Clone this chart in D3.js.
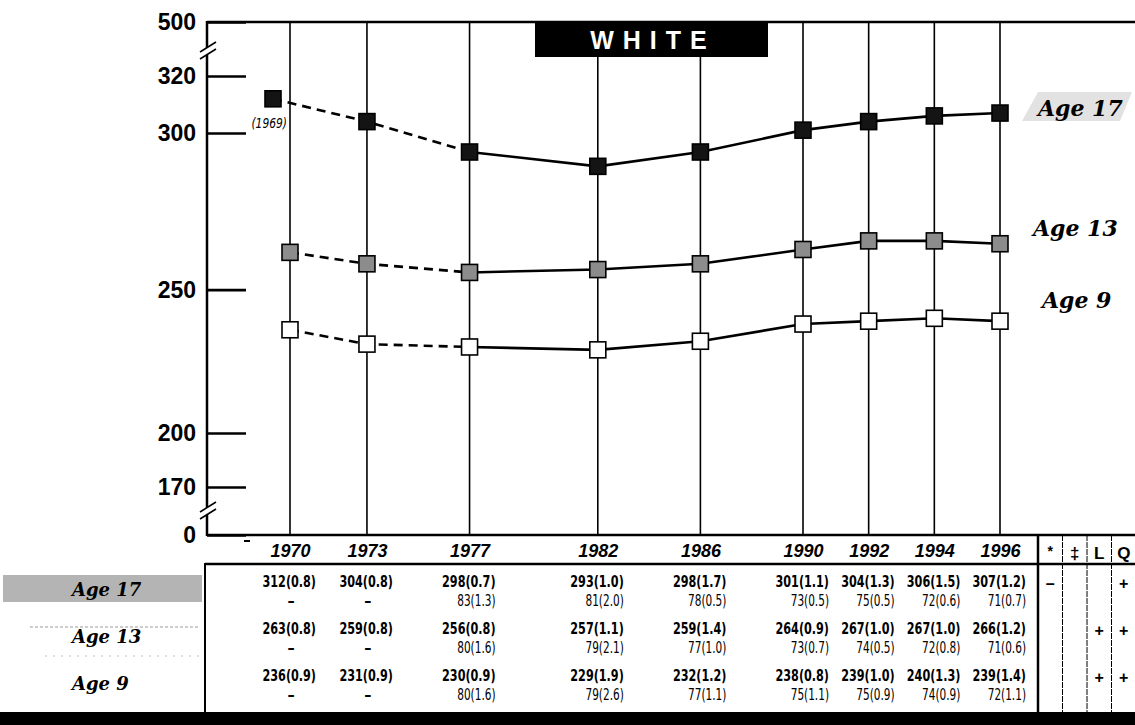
<!DOCTYPE html>
<html><head><meta charset="utf-8">
<script src="https://cdn.jsdelivr.net/npm/d3@7/dist/d3.min.js"></script>
<style>
body{margin:0;background:#fff;}
svg{display:block;}
</style></head><body>
<svg id="c" width="1135" height="725"></svg>
<script>
// ---------- data ----------
const years = [1969,1970,1973,1977,1982,1986,1990,1992,1994,1996];
const tableYears = [1970,1973,1977,1982,1986,1990,1992,1994,1996];
const age17 = [312,null,304,298,293,298,301,304,306,307];
const age13 = [null,263,259,256,257,259,264,267,267,266];
const age9  = [null,236,231,230,229,232,238,239,240,239];
const yTicks = [0,170,200,250,300,320,500];

const age17Se = [0.8,0.8,0.7,1.0,1.7,1.1,1.3,1.5,1.2];
const age13Se = [0.8,0.8,0.8,1.1,1.4,0.9,1.0,1.0,1.2];
const age9Se  = [0.9,0.9,0.9,1.9,1.2,0.8,1.0,1.3,1.4];
const pct17   = [null,null,83,81,78,73,75,72,71];
const pct17Se = [null,null,1.3,2.0,0.5,0.5,0.5,0.6,0.7];
const pct13   = [null,null,80,79,77,73,74,72,71];
const pct13Se = [null,null,1.6,2.1,1.0,0.7,0.5,0.8,0.6];
const pct9    = [null,null,80,79,77,75,75,74,72];
const pct9Se  = [null,null,1.6,2.6,1.1,1.1,0.9,0.9,1.1];
const sigCols = ["*","\u2021","L","Q"];
const sig17 = ["\u2013","","","+"];
const sig13 = ["","","+","+"];
const sig9  = ["","","+","+"];
const seriesNames = ["Age 17","Age 13","Age 9"];
const title = "WHITE";

// ---------- layout ----------
const svg = d3.select("#c");
const axisX = 207, topY = 22, bottomY = 535, rightEdge = 1135;
const x = d3.scaleLinear().domain([1969,1970,1990,1996]).range([273,290,803,1000]);
const y = d3.scaleLinear().domain([0,170,200,298,300,320,500]).range([bottomY,487,433,152,133,76,topY]);

const fmt1 = d3.format(".1f");
const condFont = "'DejaVu Sans Condensed','DejaVu Sans',sans-serif";
function condText(px, py, anchor, size, weight, txt, sx){
  return svg.append("text").attr("transform",`translate(${px},${py}) scale(${sx||0.78},1)`)
    .attr("text-anchor",anchor).attr("dy","0.35em")
    .attr("font-family",condFont).attr("font-weight",weight).attr("font-size",size)
    .attr("fill","#000").text(txt);
}

// vertical year lines
svg.append("g").selectAll("line").data(tableYears).join("line")
  .attr("x1", d=>x(d)).attr("x2", d=>x(d))
  .attr("y1", y(500)).attr("y2", y(0))
  .attr("stroke","#000").attr("stroke-width",1.6);

// frame lines
svg.append("line").attr("x1",axisX).attr("x2",rightEdge).attr("y1",y(500)).attr("y2",y(500))
  .attr("stroke","#000").attr("stroke-width",2.5);
svg.append("line").attr("x1",axisX).attr("x2",rightEdge).attr("y1",y(0)).attr("y2",y(0))
  .attr("stroke","#000").attr("stroke-width",2.5);
svg.append("line").attr("x1",axisX).attr("x2",axisX).attr("y1",y(500)-1).attr("y2",y(0)+1)
  .attr("stroke","#000").attr("stroke-width",2.5);

// y axis ticks + labels
const yAxis = d3.axisLeft(y).tickValues(yTicks).tickSize(-39).tickPadding(11).tickFormat(d3.format("d"));
const gy = svg.append("g").attr("transform",`translate(${axisX},0)`).call(yAxis);
gy.select(".domain").remove();
gy.selectAll(".tick line").attr("stroke","#000").attr("stroke-width",2.6);
gy.selectAll(".tick text").attr("font-family","'Liberation Sans',Arial,sans-serif")
  .attr("font-weight","bold").attr("font-size",23).attr("fill","#000");

// axis breaks
function brk(cy){
  const g = svg.append("g").attr("transform",`translate(${axisX},${cy})`);
  g.append("polygon").attr("points","-7,0 9,-10 9,-3 -7,7").attr("fill","#fff");
  g.append("line").attr("x1",-7).attr("y1",0).attr("x2",9).attr("y2",-10).attr("stroke","#000").attr("stroke-width",1.6);
  g.append("line").attr("x1",-7).attr("y1",7).attr("x2",9).attr("y2",-3).attr("stroke","#000").attr("stroke-width",1.6);
}
brk((y(500)+y(320))/2 + 3);
brk((y(170)+y(0))/2 + 1);

// small stray dash below axis near 1969
svg.append("line").attr("x1",x(1969)-29).attr("x2",x(1969)-23).attr("y1",bottomY+6).attr("y2",bottomY+6)
  .attr("stroke","#000").attr("stroke-width",2);

// title box
const tb = svg.append("g");
tb.append("rect").attr("x",535).attr("y",y(500)).attr("width",233).attr("height",35).attr("fill","#000");
tb.append("text").attr("x",653).attr("y",y(500)+27).attr("text-anchor","middle")
  .attr("font-family","'Liberation Sans',Arial,sans-serif").attr("font-weight","bold")
  .attr("font-size",25).attr("letter-spacing",9).attr("fill","#fff").text(title);

// series
const seriesVals = [age17, age13, age9];
const fills = ["#141414","#8c8c8c","#ffffff"];
const line = d3.line().x(d=>x(d.year)).y(d=>y(d.v));
seriesVals.forEach((vals,i)=>{
  const pts = years.map((yr,j)=>({year:yr, v:vals[j]})).filter(d=>d.v!=null);
  const dashed = pts.filter(d=>d.year<=1977);
  const solid = pts.filter(d=>d.year>=1977);
  svg.append("path").attr("d",line(dashed)).attr("fill","none").attr("stroke","#000")
    .attr("stroke-width",2.6).attr("stroke-dasharray","9,6");
  svg.append("path").attr("d",line(solid)).attr("fill","none").attr("stroke","#000")
    .attr("stroke-width",2.6);
  svg.append("g").selectAll("rect").data(pts).join("rect")
    .attr("x",d=>x(d.year)-8).attr("y",d=>y(d.v)-8).attr("width",16).attr("height",16)
    .attr("fill",fills[i]).attr("stroke","#000").attr("stroke-width",1.6);
});

// (1969) note
svg.append("text").attr("transform",`translate(${x(1970)-3},${y(age17[0])+24}) scale(0.85,1)`)
  .attr("text-anchor","end").attr("dy","0.35em")
  .attr("font-family",condFont).attr("font-style","italic").attr("font-size",14).attr("fill","#000").text("(1969)");

// right labels
const rightLabelY = [108, 228, 300];
const rightLabelX = [1038, 1033, 1042];
svg.append("polygon").attr("points","1022,121 1038,92 1132,92 1120,121").attr("fill","#e2e2e2");
seriesNames.forEach((n,i)=>{
  svg.append("text").attr("x",rightLabelX[i]).attr("y",rightLabelY[i]).attr("dy","0.35em")
    .attr("font-family","'DejaVu Serif',serif").attr("font-weight","bold").attr("font-style","italic")
    .attr("font-size",22).attr("fill","#000").text(n);
});

// x axis labels
const xAxis = d3.axisBottom(x).tickValues(tableYears).tickSize(0).tickPadding(9).tickFormat(d3.format("d"));
const gx = svg.append("g").attr("transform",`translate(0,${bottomY})`).call(xAxis);
gx.select(".domain").remove();
gx.selectAll(".tick text").attr("font-family","'Liberation Sans',Arial,sans-serif")
  .attr("font-weight","bold").attr("font-style","italic").attr("font-size",18).attr("fill","#000");

// ---------- table ----------
const rowBand = d3.scaleBand().domain(seriesNames).range([565,706]);
const sigX = d3.scaleBand().domain(sigCols).range([1038,1136]);
const tableLeft = 205;

svg.append("line").attr("x1",tableLeft).attr("x2",rightEdge).attr("y1",564).attr("y2",564)
  .attr("stroke","#000").attr("stroke-width",2.5);
svg.append("line").attr("x1",tableLeft).attr("x2",tableLeft).attr("y1",563).attr("y2",713)
  .attr("stroke","#000").attr("stroke-width",2);
svg.append("rect").attr("x",0).attr("y",712).attr("width",1135).attr("height",13).attr("fill","#000");

svg.append("line").attr("x1",sigX.range()[0]).attr("x2",sigX.range()[0]).attr("y1",bottomY).attr("y2",713)
  .attr("stroke","#000").attr("stroke-width",2.5);
sigCols.forEach((c,i)=>{
  const bx = sigX(c)+sigX.bandwidth();
  svg.append("line").attr("x1",bx).attr("x2",bx).attr("y1",bottomY).attr("y2",713)
    .attr("stroke","#000").attr("stroke-width",1).attr("stroke-dasharray", i<3?"6,1":null);
  svg.append("text").attr("x",sigX(c)+sigX.bandwidth()/2).attr("y",c==="*"?551:553).attr("dy","0.35em")
    .attr("text-anchor","middle").attr("font-family","'Liberation Sans',Arial,sans-serif")
    .attr("font-weight","bold").attr("font-size",c==="*"?14:17).attr("fill","#000").text(c);
});

// left labels
svg.append("rect").attr("x",3).attr("y",rowBand("Age 17")+10).attr("width",199).attr("height",27).attr("fill","#b4b4b4");
svg.append("line").attr("x1",30).attr("x2",200).attr("y1",rowBand("Age 13")+15).attr("y2",rowBand("Age 13")+15)
  .attr("stroke","#999").attr("stroke-width",1).attr("stroke-dasharray","3,2");
svg.append("line").attr("x1",45).attr("x2",200).attr("y1",rowBand("Age 13")+44).attr("y2",rowBand("Age 13")+44)
  .attr("stroke","#bbb").attr("stroke-width",1).attr("stroke-dasharray","2,6");
seriesNames.forEach(n=>{
  svg.append("text").attr("x",72).attr("y",rowBand(n)+25).attr("dy","0.35em")
    .attr("font-family","'DejaVu Serif',serif").attr("font-weight","bold").attr("font-style","italic")
    .attr("font-size",18).attr("fill","#000").text(n);
});

// values
const mains = [age17.filter(v=>v!=null), age13.filter(v=>v!=null), age9.filter(v=>v!=null)];
const ses = [age17Se, age13Se, age9Se];
const pcts = [pct17, pct13, pct9];
const pctSes = [pct17Se, pct13Se, pct9Se];
const sigs = [sig17, sig13, sig9];
seriesNames.forEach((n,i)=>{
  const r0 = rowBand(n);
  tableYears.forEach((yr,j)=>{
    condText(x(yr)+26, r0+16, "end", 16, "bold", `${mains[i][j]}(${fmt1(ses[i][j])})`);
    if (pcts[i][j]==null){
      condText(x(yr)+1, r0+35, "middle", 16, "bold", "\u2013", 1);
    } else {
      condText(x(yr)+26, r0+36, "end", 15, "normal", `${pcts[i][j]}(${fmt1(pctSes[i][j])})`);
    }
  });
  sigCols.forEach((c,k)=>{
    if (sigs[i][k]) svg.append("text").attr("x",sigX(c)+sigX.bandwidth()/2).attr("y",r0+18).attr("dy","0.35em")
      .attr("text-anchor","middle").attr("font-family","'Liberation Sans',Arial,sans-serif")
      .attr("font-weight","bold").attr("font-size",16).attr("fill","#000").text(sigs[i][k]);
  });
});
</script>
</body></html>
